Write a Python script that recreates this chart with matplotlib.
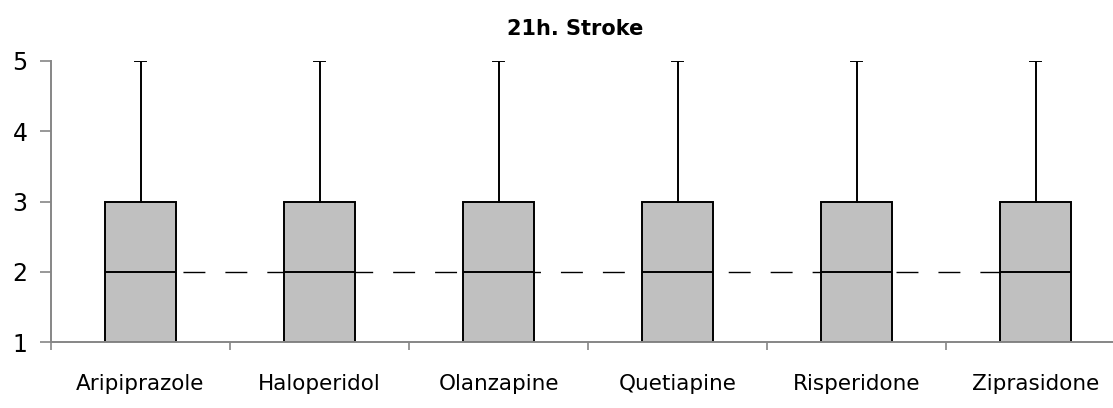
import matplotlib
matplotlib.use("Agg")
import matplotlib.pyplot as plt
import numpy as np

# five-number summaries per drug
drugs = ['Aripiprazole', 'Haloperidol', 'Olanzapine', 'Quetiapine', 'Risperidone', 'Ziprasidone']
mins = [1, 1, 1, 1, 1, 1]
q1 = [1, 1, 1, 1, 1, 1]
medians = [2, 2, 2, 2, 2, 2]
q3 = [3, 3, 3, 3, 3, 3]
maxs = [5, 5, 5, 5, 5, 5]
overall_median = [2, 2, 2, 2, 2, 2]

W, H = 1113, 408
fig = plt.figure(figsize=(W / 100, H / 100), dpi=100)
ax = fig.add_axes([51 / W, 66 / H, 1074 / W, 281 / H])

pos = np.arange(len(drugs))

# dashed reference line through the category centres
ax.plot(pos, overall_median, color='black', lw=1.0,
        linestyle=(0, (15.8, 14.4)), zorder=1)

stats = []
for i, d in enumerate(drugs):
    stats.append(dict(label=d, whislo=mins[i], q1=q1[i], med=medians[i],
                      q3=q3[i], whishi=maxs[i]))

ax.bxp(stats, positions=pos, widths=0.40, patch_artist=True, showfliers=False,
       boxprops=dict(facecolor='#c0c0c0', edgecolor='black', linewidth=1.4),
       medianprops=dict(color='black', linewidth=1.4),
       whiskerprops=dict(color='black', linewidth=1.4),
       capprops=dict(color='black', linewidth=1.4),
       capwidths=0.067, zorder=2)

ax.set_xlim(-0.5, len(drugs) - 0.5)
ax.set_ylim(1, 5)
ax.set_yticks([1, 2, 3, 4, 5])

ax.set_xticks(np.arange(len(drugs) + 1) - 0.5)
ax.set_xticklabels([])
ax.set_xticks(pos, minor=True)
ax.set_xticklabels(drugs, minor=True)
ax.tick_params(axis='x', which='minor', length=0, pad=23, labelsize=15.5)
ax.tick_params(axis='x', which='major', length=6, width=1.2, color='#868686')
ax.tick_params(axis='y', length=8, width=1.2, color='#868686', pad=9, labelsize=17)

for s in ['top', 'right']:
    ax.spines[s].set_visible(False)
for s in ['left', 'bottom']:
    ax.spines[s].set_color('#868686')
    ax.spines[s].set_linewidth(1.4)
    ax.spines[s].set_zorder(3)

fig.text(575 / W, 1 - 29 / H, '21h. Stroke', ha='center', va='center',
         fontsize=15, fontweight='bold')

fig.savefig('out.png', dpi=100)
